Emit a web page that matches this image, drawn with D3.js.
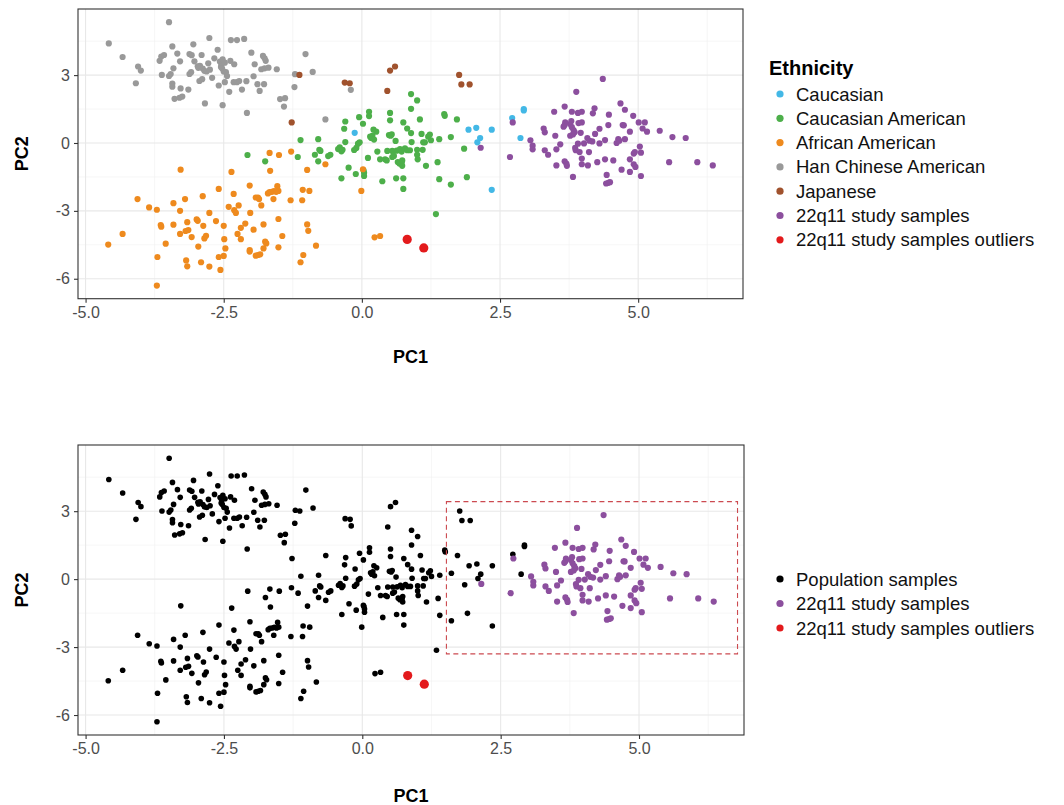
<!DOCTYPE html>
<html>
<head>
<meta charset="utf-8">
<script src="https://cdn.jsdelivr.net/npm/d3@7"></script>
<style>
  html, body { margin: 0; padding: 0; background: #fff; }
  svg { display: block; font-family: "Liberation Sans", Arial, sans-serif; }
</style>
</head>
<body>
<svg id="chart" width="1064" height="805"></svg>
<script>
// PCA coordinates [PC1, PC2] per ethnicity group
const caucasian = [[-0.13,0.45],[1.93,0.59],[2.07,0.67],[2.35,0.59],[2.14,0.22],[2.09,0.03],[2.72,1.10],[2.93,1.50],[2.93,1.44],[2.87,0.22],[2.35,-2.07]];

const caucasianAmerican = [[-1.11,0.13],[0.89,2.16],[1.00,1.88],[0.89,1.51],[0.13,1.38],[0.13,1.19],[-0.05,1.14],[0.02,0.85],[-0.30,0.95],[-0.32,0.63],[0.51,1.33],[0.51,1.00],[0.75,0.91],[1.05,1.04],[1.49,1.28],[1.50,1.20],[1.72,1.04],[0.82,0.64],[0.89,0.44],[1.08,0.40],[1.20,0.28],[1.23,0.37],[1.25,0.12],[1.14,0.03],[1.11,0.03],[1.40,0.17],[1.61,0.26],[0.90,0.04],[0.61,0.09],[0.54,0.38],[0.49,0.35],[0.52,0.32],[0.26,0.50],[0.21,0.59],[0.19,0.32],[0.17,0.22],[0.15,0.28],[0.22,0.15],[-0.04,0.03],[-0.07,-0.03],[-0.30,0.04],[-0.40,-0.19],[-0.43,-0.27],[-0.37,-0.37],[-0.35,-0.30],[-0.14,-0.31],[-0.10,-0.22],[0.28,-0.38],[0.46,-0.35],[0.55,-0.35],[0.63,-0.34],[0.69,-0.27],[0.72,-0.38],[0.78,-0.24],[0.82,-0.32],[0.87,-0.32],[1.00,-0.30],[1.10,-0.30],[-0.79,0.17],[-0.77,-0.30],[-0.75,-0.35],[1.85,-0.25],[-2.07,-0.53],[-1.75,-0.81],[-1.16,-0.62],[-0.85,-0.52],[-0.79,-0.81],[-0.61,-0.58],[-0.57,-0.52],[0.11,-0.66],[0.33,-0.72],[0.42,-0.72],[0.45,-0.77],[0.55,-0.62],[0.58,-0.57],[0.65,-0.84],[0.72,-0.87],[0.73,-1.01],[0.68,-0.91],[0.73,-0.77],[1.00,-0.52],[1.01,-0.72],[1.16,-1.01],[1.37,-0.85],[-0.24,-1.09],[-0.11,-1.37],[0.04,-1.32],[0.04,-1.46],[0.03,-1.21],[-0.37,-1.56],[0.37,-1.69],[0.62,-1.56],[0.75,-1.56],[0.75,-2.03],[1.40,-1.60],[1.61,-1.84],[1.90,-1.51],[1.34,-3.14]];

const africanAmerican = [[-1.67,-0.44],[-1.50,-0.53],[-1.28,-0.38],[-3.28,-1.18],[-2.36,-1.28],[-1.66,-1.23],[-2.03,-1.88],[-4.06,-2.48],[-3.85,-2.85],[-3.71,-2.95],[-3.41,-2.66],[-3.29,-3.00],[-3.20,-2.48],[-2.88,-2.35],[-2.59,-2.03],[-2.32,-2.25],[-2.41,-2.82],[-2.31,-2.97],[-2.28,-3.09],[-2.23,-2.76],[-2.02,-3.09],[-1.92,-2.41],[-1.88,-2.41],[-1.86,-2.48],[-1.82,-2.76],[-1.70,-2.23],[-1.67,-2.17],[-1.63,-2.16],[-1.59,-2.13],[-1.53,-1.91],[-1.51,-2.12],[-1.55,-2.16],[-1.60,-2.48],[-1.29,-2.53],[-4.33,-4.02],[-4.59,-4.49],[-3.64,-3.63],[-3.63,-3.70],[-3.55,-4.45],[-3.41,-3.61],[-3.29,-4.02],[-3.19,-3.89],[-3.14,-3.85],[-3.16,-3.50],[-3.08,-4.16],[-2.99,-3.38],[-2.97,-3.44],[-2.87,-3.66],[-2.85,-4.22],[-2.82,-4.10],[-2.76,-3.09],[-2.64,-3.45],[-2.50,-3.66],[-2.49,-4.25],[-2.47,-4.66],[-2.96,-4.58],[-3.70,-5.04],[-3.18,-5.19],[-3.16,-5.45],[-2.91,-5.27],[-2.76,-5.46],[-2.59,-5.04],[-2.50,-4.99],[-2.56,-5.61],[-2.25,-4.02],[-2.19,-4.25],[-2.19,-3.75],[-2.11,-3.56],[-1.96,-3.83],[-1.78,-3.60],[-1.75,-4.36],[-1.73,-4.44],[-1.78,-4.66],[-2.03,-4.73],[-2.03,-4.80],[-1.92,-4.98],[-1.88,-4.95],[-1.84,-4.92],[-1.51,-3.36],[-1.44,-4.11],[-1.51,-4.61],[-3.71,-6.30],[-0.99,-1.19],[-0.66,-0.94],[0.02,-1.16],[-1.07,-2.07],[-0.95,-2.12],[-1.08,-2.53],[-0.01,-2.12],[-0.99,-3.60],[-0.97,-3.88],[-0.83,-4.54],[-1.06,-4.95],[-1.11,-5.27],[0.23,-4.17],[0.33,-4.11]];

const hanChinese = [[-3.49,5.34],[-4.58,4.40],[-4.33,3.80],[-4.05,3.38],[-4.00,3.20],[-4.09,2.64],[-3.66,3.63],[-3.63,3.82],[-3.58,3.89],[-3.43,4.27],[-3.34,3.95],[-3.29,3.61],[-3.41,3.30],[-3.62,3.01],[-3.49,2.96],[-3.46,3.05],[-3.43,2.63],[-3.43,2.49],[-3.39,1.95],[-3.30,2.00],[-3.25,2.05],[-3.28,2.41],[-3.14,2.36],[-3.12,3.05],[-3.09,3.13],[-3.12,3.93],[-3.08,3.88],[-3.05,4.36],[-3.03,3.61],[-2.97,3.39],[-2.96,3.32],[-2.93,3.41],[-2.90,3.89],[-2.88,3.29],[-2.85,3.19],[-2.81,3.16],[-2.78,3.52],[-2.75,3.24],[-2.76,4.64],[-2.84,1.75],[-2.94,2.74],[-2.89,2.82],[-2.71,2.88],[-2.67,3.74],[-2.61,4.12],[-2.57,3.60],[-2.59,2.54],[-2.52,3.70],[-2.54,3.48],[-2.55,3.36],[-2.53,3.30],[-2.50,3.16],[-2.48,3.55],[-2.46,3.13],[-2.44,2.96],[-2.48,2.69],[-2.52,1.67],[-2.38,3.63],[-2.37,4.55],[-2.31,3.48],[-2.40,2.26],[-2.32,2.69],[-2.26,2.69],[-2.22,2.74],[-2.26,4.55],[-2.13,4.60],[-2.17,2.36],[-2.09,2.73],[-2.08,1.33],[-2.00,3.99],[-1.96,2.95],[-1.94,3.48],[-1.89,2.60],[-1.85,2.30],[-1.82,3.26],[-1.77,2.60],[-1.79,3.85],[-1.76,3.74],[-1.74,3.63],[-1.76,3.30],[-1.69,3.33],[-1.54,3.26],[-1.48,1.94],[-1.39,1.98],[-1.41,1.61],[-1.21,3.04],[-1.22,2.47],[-1.02,3.93],[-0.89,3.14],[-0.20,2.35],[-0.66,1.04]];

const japanese = [[-1.13,3.01],[-1.27,0.91],[-0.31,2.67],[-0.22,2.64],[0.51,3.20],[0.60,3.38],[0.46,2.30],[1.76,3.01],[1.80,2.59],[1.95,2.59]];

const studySamples = [[2.73,0.91],[2.15,-0.21],[2.68,-0.62],[4.36,2.83],[3.88,2.26],[3.67,1.61],[3.48,1.38],[3.80,1.38],[3.91,1.33],[3.98,1.38],[4.21,1.53],[4.18,1.31],[4.47,1.25],[4.68,1.75],[4.76,1.47],[4.91,1.20],[5.01,0.91],[5.12,0.91],[5.16,0.50],[5.39,0.54],[5.62,0.26],[5.86,0.22],[5.08,0.64],[4.85,0.50],[4.72,0.79],[4.74,0.78],[4.46,0.79],[4.30,0.63],[4.22,0.40],[4.08,0.22],[4.12,0.10],[4.17,0.07],[4.40,0.13],[4.30,-0.02],[3.96,0.45],[3.98,0.91],[3.92,0.88],[3.79,0.97],[3.77,0.84],[3.67,0.79],[3.68,0.91],[3.65,0.72],[3.80,0.70],[3.83,0.57],[3.85,0.48],[3.77,0.32],[3.82,0.38],[3.50,0.32],[3.29,0.64],[3.31,0.47],[3.05,0.12],[3.09,-0.12],[3.59,-0.06],[3.91,-0.03],[3.86,-0.22],[4.02,-0.02],[4.64,0.17],[4.61,0.00],[4.66,0.10],[4.76,0.17],[5.03,-0.16],[3.09,-0.28],[3.31,-0.32],[3.37,-0.52],[3.52,-0.28],[3.52,-0.99],[3.67,-0.81],[3.70,-0.91],[3.71,-1.01],[3.82,-1.50],[3.87,-0.32],[3.94,-0.40],[3.98,-0.69],[3.98,-0.94],[4.09,-0.99],[4.11,-0.40],[4.26,-0.85],[4.40,-0.72],[4.43,-1.41],[4.42,-1.79],[4.46,-1.76],[4.49,-1.73],[4.55,-0.77],[4.70,-1.18],[4.85,-0.72],[4.85,-1.28],[4.92,-0.47],[4.94,-0.40],[4.92,-0.94],[4.95,-1.06],[5.05,-0.43],[5.05,-1.46],[5.56,-0.85],[6.07,-0.85],[6.35,-0.99]];

const studyOutliers = [[0.82,-4.26],[1.12,-4.64]];

// Legend entries, in drawing order
const ethnicityLabels = ["Caucasian","Caucasian American","African American","Han Chinese American","Japanese","22q11 study samples","22q11 study samples outliers"];
const ethnicityColors = ["#43b8e6","#4daf4a","#ee8a1e","#999999","#a0522d","#8c4f9e","#e31a1c"];
const sampleLabels = ["Population samples","22q11 study samples","22q11 study samples outliers"];
const sampleColors = ["#000000","#8c4f9e","#e31a1c"];

// Axis ticks
const xTicks = [-5, -2.5, 0, 2.5, 5];
const xTickLabels = ["-5.0","-2.5","0.0","2.5","5.0"];
const yTicks = [-6, -3, 0, 3];
const yTickLabels = ["-6","-3","0","3"];

// Highlighted region around the study cluster: [PC1 min, PC1 max, PC2 min, PC2 max]
const studyRegion = [1.52, 6.78, -3.30, 3.42];

const groups = [caucasian, caucasianAmerican, africanAmerican, hanChinese, japanese, studySamples, studyOutliers];
const allPoints = groups.flat();

const svg = d3.select("#chart");

// ggplot-style 5% expansion of the data range
function expand(ext) {
  const pad = (ext[1] - ext[0]) * 0.05;
  return [ext[0] - pad, ext[1] + pad];
}
const xDomain = expand(d3.extent(allPoints, d => d[0]));
const yDomain = expand(d3.extent(allPoints, d => d[1]));

function drawPanel(cfg) {
  const { left, right, top, bottom } = cfg;
  const x = d3.scaleLinear().domain(xDomain).range([left, right]);
  const y = d3.scaleLinear().domain(yDomain).range([bottom, top]);
  const g = svg.append("g");

  // grid
  const xMinor = d3.range(-6.25, 7, 2.5).filter(v => v > xDomain[0] && v < xDomain[1]);
  const yMinor = d3.range(-7.5, 7, 3).filter(v => v > yDomain[0] && v < yDomain[1]);
  const grid = g.append("g");
  grid.selectAll("line.xmin").data(xMinor).join("line")
    .attr("x1", d => x(d)).attr("x2", d => x(d)).attr("y1", top).attr("y2", bottom)
    .attr("stroke", "#f0f0f0").attr("stroke-width", 0.6);
  grid.selectAll("line.ymin").data(yMinor).join("line")
    .attr("y1", d => y(d)).attr("y2", d => y(d)).attr("x1", left).attr("x2", right)
    .attr("stroke", "#f0f0f0").attr("stroke-width", 0.6);
  grid.selectAll("line.xmaj").data(xTicks).join("line")
    .attr("x1", d => x(d)).attr("x2", d => x(d)).attr("y1", top).attr("y2", bottom)
    .attr("stroke", "#e8e8e8").attr("stroke-width", 1.1);
  grid.selectAll("line.ymaj").data(yTicks).join("line")
    .attr("y1", d => y(d)).attr("y2", d => y(d)).attr("x1", left).attr("x2", right)
    .attr("stroke", "#e8e8e8").attr("stroke-width", 1.1);

  cfg.drawMarks(g, x, y);

  // panel border
  g.append("rect").attr("x", left).attr("y", top)
    .attr("width", right - left).attr("height", bottom - top)
    .attr("fill", "none").attr("stroke", "#333333").attr("stroke-width", 1.1);

  // axes
  const xAxis = d3.axisBottom(x).tickValues(xTicks)
    .tickFormat((d, i) => xTickLabels[i]).tickSize(4).tickPadding(4);
  const yAxis = d3.axisLeft(y).tickValues(yTicks)
    .tickFormat((d, i) => yTickLabels[i]).tickSize(4).tickPadding(4);
  const gx = g.append("g").attr("transform", `translate(0,${bottom})`).call(xAxis);
  const gy = g.append("g").attr("transform", `translate(${left},0)`).call(yAxis);
  [gx, gy].forEach(a => {
    a.select(".domain").remove();
    a.selectAll(".tick line").attr("stroke", "#333333").attr("stroke-width", 1.1);
    a.selectAll(".tick text").attr("fill", "#4d4d4d")
      .style("font-size", "16px").style("font-family", "'Liberation Sans', Arial, sans-serif");
  });

  // axis titles
  g.append("text").attr("x", (left + right) / 2).attr("y", cfg.xTitleY)
    .attr("text-anchor", "middle").style("font-size", "18px").style("font-weight", "bold")
    .text("PC1");
  g.append("text")
    .attr("transform", `translate(${cfg.yTitleX},${(top + bottom) / 2}) rotate(-90)`)
    .attr("text-anchor", "middle").style("font-size", "18px").style("font-weight", "bold")
    .text("PC2");
}

function drawLegend(x0, firstY, step, labels, colors, title, titleY) {
  const lg = svg.append("g");
  if (title) {
    lg.append("text").attr("x", x0 - 11).attr("y", titleY)
      .style("font-size", "20px").style("font-weight", "bold").text(title);
  }
  labels.forEach((lab, i) => {
    const cy = firstY + i * step;
    lg.append("circle").attr("cx", x0).attr("cy", cy).attr("r", 3.6).attr("fill", colors[i]);
    lg.append("text").attr("x", x0 + 16).attr("y", cy + 6.5)
      .style("font-size", "18.5px").attr("fill", "#111").text(lab);
  });
}

// Top panel: coloured by ethnicity
drawPanel({
  left: 78, right: 743, top: 9, bottom: 298.7,
  xTitleY: 363, yTitleX: 28,
  drawMarks: (g, x, y) => {
    groups.forEach((grp, gi) => {
      g.append("g").selectAll("circle").data(grp).join("circle")
        .attr("cx", d => x(d[0])).attr("cy", d => y(d[1]))
        .attr("r", gi === 6 ? 4.6 : 3.1)
        .attr("fill", ethnicityColors[gi]);
    });
  }
});
drawLegend(780, 94, 24.3, ethnicityLabels, ethnicityColors, "Ethnicity", 75);

// Bottom panel: population reference vs study samples
const population = [caucasian, caucasianAmerican, africanAmerican, hanChinese, japanese].flat();
drawPanel({
  left: 78, right: 744, top: 445, bottom: 735,
  xTitleY: 802, yTitleX: 28,
  drawMarks: (g, x, y) => {
    g.append("g").selectAll("circle").data(population).join("circle")
      .attr("cx", d => x(d[0])).attr("cy", d => y(d[1])).attr("r", 2.8).attr("fill", sampleColors[0]);
    g.append("g").selectAll("circle").data(studySamples).join("circle")
      .attr("cx", d => x(d[0])).attr("cy", d => y(d[1])).attr("r", 3.1).attr("fill", sampleColors[1]);
    g.append("g").selectAll("circle").data(studyOutliers).join("circle")
      .attr("cx", d => x(d[0])).attr("cy", d => y(d[1])).attr("r", 4.6).attr("fill", sampleColors[2]);
    g.append("rect")
      .attr("x", x(studyRegion[0])).attr("y", y(studyRegion[3]))
      .attr("width", x(studyRegion[1]) - x(studyRegion[0]))
      .attr("height", y(studyRegion[2]) - y(studyRegion[3]))
      .attr("fill", "none").attr("stroke", "#cc4a50").attr("stroke-width", 1.1)
      .attr("stroke-dasharray", "5,3.5");
  }
});
drawLegend(780, 579, 24.5, sampleLabels, sampleColors, null, 0);
</script>
</body>
</html>
